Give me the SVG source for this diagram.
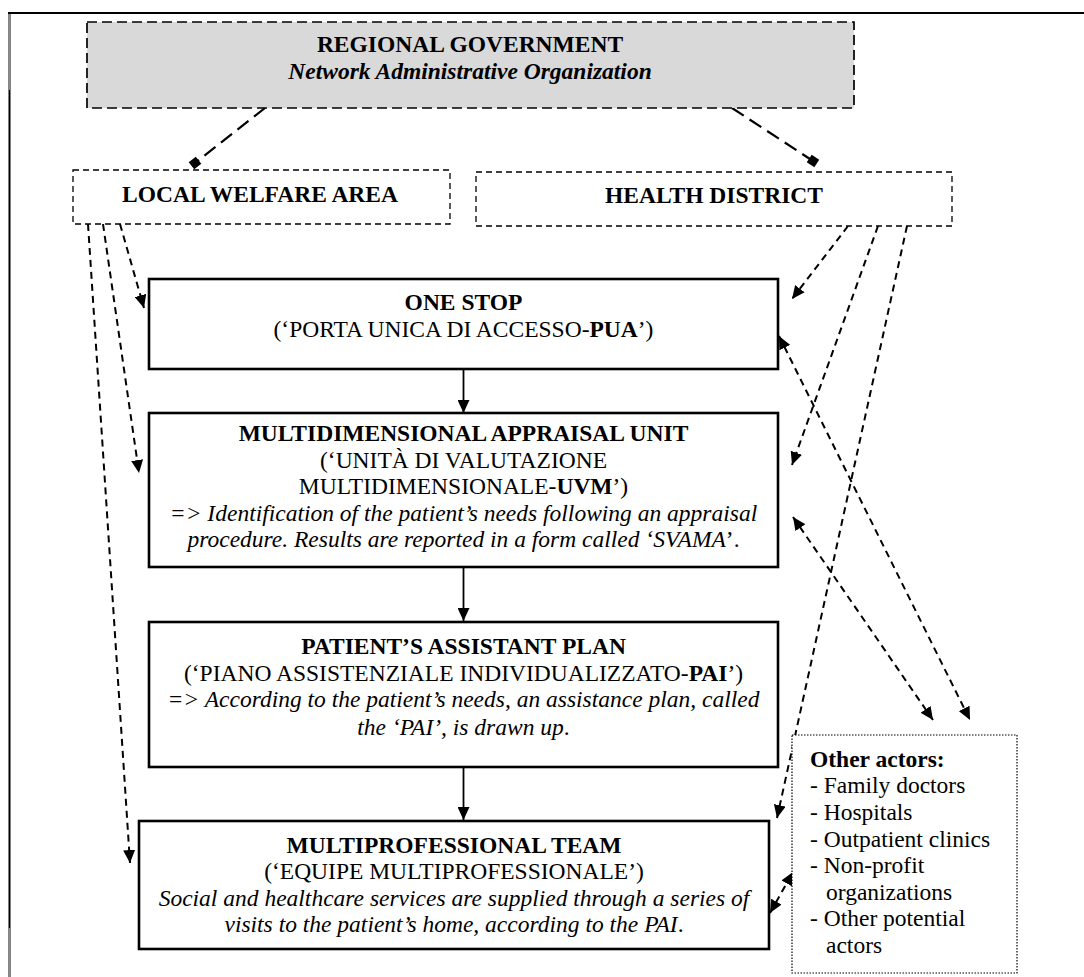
<svg xmlns="http://www.w3.org/2000/svg" width="1084" height="977" viewBox="0 0 1084 977">
<style>
text{font-family:"Liberation Serif","Times New Roman",serif;font-size:23.5px;fill:#000}
.c{text-anchor:middle}
.b{font-weight:bold}
.i{font-style:italic}
.solid{fill:#fff;stroke:#000;stroke-width:2.6}
.hdr{fill:#fff;stroke:#000;stroke-width:1.3;stroke-dasharray:6 4}
.conn{fill:none;stroke:#000;stroke-width:2;stroke-dasharray:7 5}
.long{fill:none;stroke:#000;stroke-width:2.2;stroke-dasharray:14 7}
.flow{fill:none;stroke:#000;stroke-width:1.8}
</style>
<defs>
<marker id="ah" markerWidth="14" markerHeight="12" refX="13" refY="6" orient="auto-start-reverse" markerUnits="userSpaceOnUse"><path d="M0,0 L13,6 L0,12 z" fill="#000" stroke="none"/></marker>
<marker id="sq" markerWidth="10" markerHeight="10" refX="5" refY="5" orient="auto" markerUnits="userSpaceOnUse"><rect x="0.5" y="0.5" width="9" height="9" fill="#000" stroke="none"/></marker>
</defs>
<rect width="1084" height="977" fill="#fff"/>
<g id="frame">
<line x1="8" y1="13" x2="1084" y2="13" stroke="#000" stroke-width="2.2"/>
<line x1="9.5" y1="13" x2="9.5" y2="977" stroke="#000" stroke-width="2"/>
<line x1="9.5" y1="14" x2="9.5" y2="90" stroke="#8a8a8a" stroke-width="2"/>
<line x1="9.5" y1="928" x2="9.5" y2="977" stroke="#8a8a8a" stroke-width="2"/>
</g>
<g id="connectors">
<path class="long" d="M265,108 L195,163" marker-end="url(#sq)"/>
<path class="long" d="M732,108 L813,161" marker-end="url(#sq)"/>
<path class="conn" d="M120,224 L144,308" marker-end="url(#ah)"/>
<path class="conn" d="M103,224 L139,473" marker-end="url(#ah)"/>
<path class="conn" d="M88,224 L130,863" marker-end="url(#ah)"/>
<path class="conn" d="M848,226 L792,299" marker-end="url(#ah)"/>
<path class="conn" d="M878,226 L792,465" marker-end="url(#ah)"/>
<path class="conn" d="M907,226 L777,818" marker-end="url(#ah)"/>
<path class="conn" d="M779,336 L970,720" marker-start="url(#ah)" marker-end="url(#ah)"/>
<path class="conn" d="M793,517 L933,720" marker-start="url(#ah)" marker-end="url(#ah)"/>
<path class="conn" d="M770,913 L793,872" marker-start="url(#ah)" marker-end="url(#ah)"/>
<path class="flow" d="M463.5,370 L463.5,413" marker-end="url(#ah)"/>
<path class="flow" d="M463.5,568 L463.5,621" marker-end="url(#ah)"/>
<path class="flow" d="M463.5,768 L463.5,820" marker-end="url(#ah)"/>
</g>
<g id="regional">
<rect x="87" y="22" width="767" height="86" fill="#d9d9d9" stroke="#000" stroke-width="1.7" stroke-dasharray="10 5"/>
<text class="c b" x="470" y="52">REGIONAL GOVERNMENT</text>
<text class="c b i" x="470" y="79">Network Administrative Organization</text>
</g>
<g id="lwa">
<rect class="hdr" x="73" y="170" width="377" height="54"/>
<text class="c b" x="260" y="202">LOCAL WELFARE AREA</text>
</g>
<g id="hd">
<rect class="hdr" x="476" y="172" width="476" height="54"/>
<text class="c b" x="714" y="203">HEALTH DISTRICT</text>
</g>
<g id="onestop">
<rect class="solid" x="149" y="279" width="629" height="90"/>
<text class="c b" x="463.5" y="310">ONE STOP</text>
<text class="c" x="463.5" y="337">(‘PORTA UNICA DI ACCESSO-<tspan class="b">PUA</tspan>’)</text>
</g>
<g id="uvm">
<rect class="solid" x="149" y="413" width="629" height="154"/>
<text class="c b" x="463.5" y="441">MULTIDIMENSIONAL APPRAISAL UNIT</text>
<text class="c" x="463.5" y="467.5">(‘UNITÀ DI VALUTAZIONE</text>
<text class="c" x="463.5" y="494">MULTIDIMENSIONALE-<tspan class="b">UVM</tspan>’)</text>
<text class="c i" x="463.5" y="520.5">=&gt; Identification of the patient’s needs following an appraisal</text>
<text class="c" x="463.5" y="547"><tspan class="i">procedure. Results are reported in a form called ‘SVAMA</tspan>’.</text>
</g>
<g id="pai">
<rect class="solid" x="149" y="622" width="629" height="145"/>
<text class="c b" x="463.5" y="654">PATIENT’S ASSISTANT PLAN</text>
<text class="c" x="463.5" y="680.5">(‘PIANO ASSISTENZIALE INDIVIDUALIZZATO-<tspan class="b">PAI</tspan>’)</text>
<text class="c i" x="463.5" y="707">=&gt; According to the patient’s needs, an assistance plan, called</text>
<text class="c" x="463.5" y="735"><tspan class="i">the ‘PAI’, is drawn up</tspan>.</text>
</g>
<g id="team">
<rect class="solid" x="139" y="821" width="630" height="128"/>
<text class="c b" x="454" y="852.5">MULTIPROFESSIONAL TEAM</text>
<text class="c" x="454" y="879">(‘EQUIPE MULTIPROFESSIONALE’)</text>
<text class="c i" x="454" y="905.5">Social and healthcare services are supplied through a series of</text>
<text class="c" x="454" y="932"><tspan class="i">visits to the patient’s home, according to the PAI</tspan>.</text>
</g>
<g id="others">
<rect x="792" y="735" width="225" height="238" fill="#fff" stroke="#000" stroke-width="1.2" stroke-dasharray="1.5 1.5"/>
<text class="b" x="810" y="767">Other actors:</text>
<text x="810" y="793">- Family doctors</text>
<text x="810" y="820">- Hospitals</text>
<text x="810" y="846.5">- Outpatient clinics</text>
<text x="810" y="873">- Non-profit</text>
<text x="826" y="899.5">organizations</text>
<text x="810" y="926">- Other potential</text>
<text x="826" y="952.5">actors</text>
</g>
</svg>
